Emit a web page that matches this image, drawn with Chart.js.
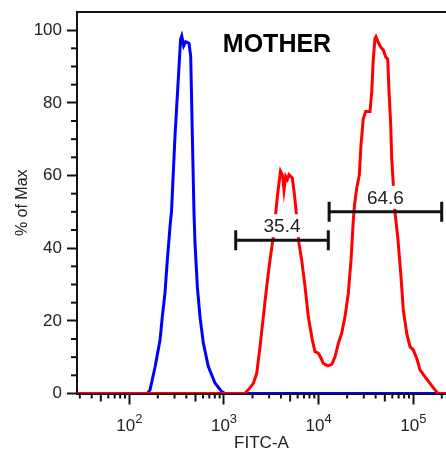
<!DOCTYPE html>
<html>
<head>
<meta charset="utf-8">
<script src="https://cdn.jsdelivr.net/npm/chart.js@4/dist/chart.umd.min.js"></script>
<style>
  html, body { margin: 0; padding: 0; background: #fff; overflow: hidden; }
  #wrap { width: 446px; height: 452px; }
</style>
</head>
<body>
<div id="wrap"><canvas id="c" width="446" height="452"></canvas></div>
<script>
// Control histogram (blue): FITC-A intensity and % of max
const controlX = [28, 155, 165.5, 187, 211, 223, 238, 252, 269, 279, 304, 348, 358, 375.5, 394, 427, 445, 463, 482, 494, 523, 558, 605, 683, 803, 946, 1025, 221500];
const controlY = [0, 0, 1.0, 7.3, 14.7, 21.1, 27.6, 36.7, 45.9, 50.2, 71.1, 97.5, 98.4, 95.7, 96.8, 96.4, 92.8, 71.1, 49.9, 41.4, 29.4, 21.1, 13.9, 7.4, 2.9, 0.5, 0, 0];

// MOTHER histogram (red): FITC-A intensity and % of max
const motherX = [28, 1476, 1667, 1807, 2042, 2218, 2403, 2603, 2826, 3062, 3318, 3518, 3695, 3955, 4150, 4304, 4487, 4666, 4863, 5271, 5533, 5862, 6203, 6622, 7179, 7780, 8575, 9160, 9920, 10590, 11200, 12470, 13750, 14900, 16140, 17530, 18980, 20570, 21980, 23240, 23930, 25250, 26900, 28020, 29630, 31420, 34900, 36370, 37800, 39370, 40330, 42680, 45580, 48210, 51090, 53650, 55400, 57720, 59140, 61490, 64090, 68440, 74160, 78400, 85140, 92270, 100000, 108600, 117700, 133000, 150100, 169400, 182400, 221500];
const motherY = [0, 0, 0.1, 1.0, 2.8, 5.6, 12.9, 21.1, 29.4, 36.7, 43.1, 49.6, 55.1, 61.2, 60.1, 56.0, 59.7, 58.9, 60.2, 59.3, 55.1, 48.6, 41.3, 36.7, 29.4, 21.1, 14.7, 11.5, 11.1, 9.7, 8.3, 7.6, 8.0, 10.1, 13.8, 16.6, 21.1, 27.6, 36.7, 47.7, 51.9, 56.5, 60.1, 68.4, 75.7, 77.6, 77.6, 83.0, 92.2, 97.7, 98.2, 96.6, 95.2, 94.6, 92.6, 92.0, 83.0, 73.9, 64.7, 57.4, 49.7, 43.1, 32.1, 23.0, 16.6, 12.9, 12.0, 9.7, 6.5, 4.6, 2.8, 1.0, 0, 0];

// Range gates on the MOTHER histogram
const gateLo = [1330, 12900];
const gateHi = [12650, 199500];
const gateY = [42.2, 50.0];
const gateLabels = ['35.4', '64.6'];

// Axis ticks
const xTicks = [100, 1000, 10000, 100000];
const yTicks = [0, 20, 40, 60, 80, 100];
const X_MIN = 28, X_MAX = 221500, Y_MIN = 0, Y_MAX = 105;

const FONT = "Arial, 'Liberation Sans', Helvetica, sans-serif";
const TEXT = '#222';

const toPoints = (xs, ys) => xs.map((x, i) => ({ x: x, y: ys[i] }));

// Minor ticks, log-axis tick labels with exponents, frame top line
const axisDecor = {
  id: 'axisDecor',
  afterDraw(chart) {
    const ctx = chart.ctx;
    const xs = chart.scales.x, ys = chart.scales.y;
    const area = chart.chartArea;
    ctx.save();
    ctx.strokeStyle = '#111';
    ctx.lineWidth = 2;
    // top frame line
    ctx.beginPath();
    ctx.moveTo(area.left - 1, area.top);
    ctx.lineTo(area.right, area.top);
    ctx.stroke();
    // y minor ticks every 5
    for (let v = 5; v <= 100; v += 5) {
      if (v % 20 === 0) continue;
      const py = ys.getPixelForValue(v);
      ctx.beginPath();
      ctx.moveTo(area.left - 6, py);
      ctx.lineTo(area.left, py);
      ctx.stroke();
    }
    // x minor ticks (2..9 per decade), 5x ticks slightly longer
    for (let d = 10; d <= 1e5; d *= 10) {
      for (let m = 2; m <= 9; m++) {
        const v = m * d;
        if (v <= X_MIN || v >= X_MAX) continue;
        const px = xs.getPixelForValue(v);
        const len = m === 5 ? 8 : 5;
        ctx.beginPath();
        ctx.moveTo(px, area.bottom);
        ctx.lineTo(px, area.bottom + len);
        ctx.stroke();
      }
    }
    // x tick labels: 10 with superscript exponent
    ctx.fillStyle = TEXT;
    ctx.textBaseline = 'alphabetic';
    ctx.textAlign = 'left';
    xTicks.forEach(v => {
      const base = '10';
      const exp = String(Math.round(Math.log10(v)));
      ctx.font = '17px ' + FONT;
      const wb = ctx.measureText(base).width;
      ctx.font = '13px ' + FONT;
      const we = ctx.measureText(exp).width;
      const px = xs.getPixelForValue(v);
      const x0 = px - (wb + we) / 2;
      ctx.font = '17px ' + FONT;
      ctx.fillText(base, x0, area.bottom + 37);
      ctx.font = '13px ' + FONT;
      ctx.fillText(exp, x0 + wb, area.bottom + 29);
    });
    ctx.restore();
  }
};

// Title and gate brackets with their percentages
const gates = {
  id: 'gates',
  afterDatasetsDraw(chart) {
    const ctx = chart.ctx;
    const xs = chart.scales.x, ys = chart.scales.y;
    const area = chart.chartArea;
    ctx.save();
    // sample name
    ctx.fillStyle = '#000';
    ctx.font = 'bold 25px ' + FONT;
    ctx.textAlign = 'center';
    ctx.textBaseline = 'middle';
    ctx.fillText('MOTHER', area.left + 0.542 * (area.right - area.left), area.top + 33);

    gateLabels.forEach((label, i) => {
      const x1 = xs.getPixelForValue(gateLo[i]);
      const x2 = xs.getPixelForValue(gateHi[i]);
      const py = ys.getPixelForValue(gateY[i]);
      const cx = (x1 + x2) / 2;
      const ty = py - 14;
      ctx.font = '19px ' + FONT;
      const w = ctx.measureText(label).width;
      ctx.fillStyle = '#fff';
      ctx.fillRect(cx - w / 2 - 3, ty - 12, w + 6, 23);
      ctx.fillStyle = TEXT;
      ctx.textAlign = 'center';
      ctx.textBaseline = 'middle';
      ctx.fillText(label, cx, ty + 1);
      ctx.strokeStyle = '#111';
      ctx.lineWidth = 3;
      ctx.beginPath();
      ctx.moveTo(x1, py);
      ctx.lineTo(x2, py);
      ctx.moveTo(x1, py - 10);
      ctx.lineTo(x1, py + 10);
      ctx.moveTo(x2, py - 10);
      ctx.lineTo(x2, py + 10);
      ctx.stroke();
    });
    ctx.restore();
  }
};

new Chart(document.getElementById('c'), {
  type: 'line',
  data: {
    datasets: [
      {
        label: 'MOTHER',
        data: toPoints(motherX, motherY),
        borderColor: '#ff0000',
        borderWidth: 3,
        pointRadius: 0,
        tension: 0,
        fill: false,
        order: 0
      },
      {
        label: 'Control',
        data: toPoints(controlX, controlY),
        borderColor: '#0000ff',
        borderWidth: 3,
        pointRadius: 0,
        tension: 0,
        fill: false,
        order: 1
      }
    ]
  },
  options: {
    responsive: false,
    animation: false,
    devicePixelRatio: 1,
    layout: { padding: { top: 12, left: 0, right: 0, bottom: 0 } },
    plugins: { legend: { display: false }, tooltip: { enabled: false } },
    scales: {
      x: {
        type: 'logarithmic',
        min: X_MIN,
        max: X_MAX,
        afterBuildTicks: s => { s.ticks = xTicks.map(v => ({ value: v, major: true })); },
        afterFit: s => { s.height = 58.5; s.paddingLeft = 0; s.paddingRight = 0; },
        grid: { display: true, drawOnChartArea: false, drawTicks: true, tickLength: 11, tickWidth: 2, tickColor: '#111' },
        border: { display: true, color: '#111', width: 2 },
        ticks: { display: false },
        title: { display: true, text: 'FITC-A', color: TEXT, font: { family: FONT, size: 17, lineHeight: 1 }, padding: { top: 0, bottom: 0 } }
      },
      y: {
        type: 'linear',
        min: Y_MIN,
        max: Y_MAX,
        afterBuildTicks: s => { s.ticks = yTicks.map(v => ({ value: v })); },
        afterFit: s => { s.width = 77; s.paddingTop = 0; s.paddingBottom = 0; },
        grid: { display: true, drawOnChartArea: false, drawTicks: true, tickLength: 10, tickWidth: 2, tickColor: '#111' },
        border: { display: true, color: '#111', width: 2 },
        ticks: { color: TEXT, font: { family: FONT, size: 17 }, padding: 5 },
        title: { display: true, text: '% of Max', color: TEXT, font: { family: FONT, size: 16 }, padding: { top: 13, bottom: 0 } }
      }
    }
  },
  plugins: [axisDecor, gates]
});
</script>
</body>
</html>
